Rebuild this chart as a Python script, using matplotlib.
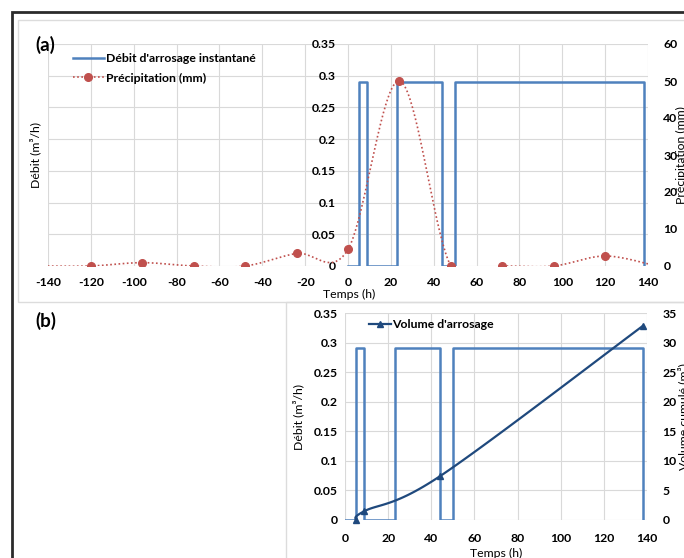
import numpy as np
import matplotlib
matplotlib.use('Agg')
import matplotlib.pyplot as plt
from matplotlib.lines import Line2D
from matplotlib.patches import Rectangle

plt.rcParams['font.family'] = ['Lato', 'DejaVu Sans']
plt.rcParams['font.weight'] = 'bold'
plt.rcParams['font.size'] = 8.8
plt.rcParams['axes.unicode_minus'] = False

# débit d'arrosage instantané (m3/h), en escalier
debit_t = [0, 5, 5, 9, 9, 23, 23, 44, 44, 50, 50, 138, 138]
debit_q = [0, 0, 0.29, 0.29, 0, 0, 0.29, 0.29, 0, 0, 0.29, 0.29, 0]

# précipitation (mm), un point toutes les 24 h
pluie_t = [-144, -120, -96, -72, -48, -24, 0, 24, 48, 72, 96, 120, 144]
pluie_mm = [0, 0, 0.9, 0, 0, 3.4, 4.5, 50, 0, 0, 0, 2.7, 0]

# volume d'arrosage cumulé (m3)
vol_t = [5, 9, 44, 138]
vol_m3 = [0, 1.5, 7.4, 32.8]

x_ticks_a = list(range(-140, 141, 20))
x_ticks_b = list(range(0, 141, 20))
q_ticks = [0, 0.05, 0.1, 0.15, 0.2, 0.25, 0.3, 0.35]
q_labels = ['0', '0.05', '0.1', '0.15', '0.2', '0.25', '0.3', '0.35']

BLEU = '#4F81BD'
MARINE = '#1F497D'
ROUGE = '#C0504D'
GRILLE = '#D9D9D9'


def lisse(x, y, n=40):
    # courbe lissée façon Excel (Bezier, tangentes des voisins / 6)
    x = np.asarray(x, float)
    y = np.asarray(y, float)
    px = np.concatenate([[x[0]], x, [x[-1]]])
    py = np.concatenate([[y[0]], y, [y[-1]]])
    t = np.linspace(0, 1, n)
    xs, ys = [], []
    for i in range(len(x) - 1):
        p0 = np.array([px[i], py[i]])
        p1 = np.array([px[i + 1], py[i + 1]])
        p2 = np.array([px[i + 2], py[i + 2]])
        p3 = np.array([px[i + 3], py[i + 3]])
        c1 = p1 + (p2 - p0) / 6
        c2 = p2 - (p3 - p1) / 6
        b = ((1 - t) ** 3)[:, None] * p1 + (3 * (1 - t) ** 2 * t)[:, None] * c1 \
            + (3 * (1 - t) * t ** 2)[:, None] * c2 + (t ** 3)[:, None] * p2
        xs.append(b[:, 0])
        ys.append(b[:, 1])
    return np.concatenate(xs), np.concatenate(ys)


def style(ax, xt):
    ax.set_xticks(xt)
    ax.set_yticks(q_ticks)
    ax.set_yticklabels(q_labels)
    ax.set_ylim(0, 0.35)
    ax.grid(True, color=GRILLE, lw=0.8)
    ax.set_axisbelow(True)
    ax.tick_params(length=0)
    for s in ax.spines.values():
        s.set_visible(False)


fig = plt.figure(figsize=(6.84, 5.58), dpi=100)
W, H = 684.0, 558.0

# cadres
fig.add_artist(Rectangle((12 / W, -0.1), 1.2, 1 - 12 / H + 0.1, transform=fig.transFigure,
                         fill=False, ec='#2b2b2b', lw=2))
fig.add_artist(Rectangle((18 / W, 1 - 302 / H), 1.2, (302 - 20) / H, transform=fig.transFigure,
                         fill=False, ec='#dcdcdc', lw=1))
fig.add_artist(Rectangle((286 / W, -0.1), 1.2, 1 - 302 / H + 0.1, transform=fig.transFigure,
                         fill=False, ec='#dcdcdc', lw=1))

# ---- (a)
ax = fig.add_axes([48 / W, 1 - 266 / H, 600 / W, 222 / H])
style(ax, x_ticks_a)
ax.set_xlim(-140, 140)
ax.spines['left'].set_position(('data', 0))
ax.tick_params(axis='y', pad=9)
ax.tick_params(axis='x', pad=8)
ax.plot(debit_t, debit_q, color=BLEU, lw=1.8)
ax.set_ylabel('Débit (m³/h)')
ax.yaxis.set_label_coords(-0.012, 0.5)
ax.set_xlabel('Temps (h)')
ax.xaxis.set_label_coords(0.502, -0.105)

ax2 = ax.twinx()
ax2.set_ylim(0, 60)
ax2.set_yticks(range(0, 61, 10))
ax2.tick_params(length=0, pad=11)
for s in ax2.spines.values():
    s.set_visible(False)
xs, ys = lisse(pluie_t, pluie_mm)
ax2.plot(xs, ys, color=ROUGE, lw=1.2, ls=(0, (1, 1.5)))
ax2.plot(pluie_t, pluie_mm, ls='none', marker='o', ms=5.5, color=ROUGE)
ax2.set_ylabel('Précipitation (mm)')
ax2.yaxis.set_label_coords(1.047, 0.5)

h1 = Line2D([], [], color=BLEU, lw=1.8)
h2 = Line2D([], [], color=ROUGE, lw=1.2, ls=(0, (1, 1.5)), marker='o', ms=5.5)
ax2.legend([h1, h2], ["Débit d'arrosage instantané", 'Précipitation (mm)'],
           loc='upper left', bbox_to_anchor=(73 / W, 1 - 53 / H), bbox_transform=fig.transFigure,
           frameon=False, handlelength=2.5, handletextpad=0.2, labelspacing=0.7, borderpad=0,
           borderaxespad=0)

# ---- (b)
bx = fig.add_axes([345 / W, 1 - 520 / H, 302 / W, 207 / H])
style(bx, x_ticks_b)
bx.set_xlim(0, 140)
bx.tick_params(axis='y', pad=5)
bx.tick_params(axis='x', pad=9)
bx.plot(debit_t, debit_q, color=BLEU, lw=1.8)
bx.set_ylabel('Débit (m³/h)')
bx.yaxis.set_label_coords(-0.135, 0.5)
bx.set_xlabel('Temps (h)')
bx.xaxis.set_label_coords(0.5, -0.135)

bx2 = bx.twinx()
bx2.set_ylim(0, 35)
bx2.set_yticks(range(0, 36, 5))
bx2.tick_params(length=0, pad=11)
for s in bx2.spines.values():
    s.set_visible(False)
vx, vy = lisse(vol_t, vol_m3)
bx2.plot(vx, vy, color=MARINE, lw=1.6)
bx2.plot(vol_t, vol_m3, ls='none', marker='^', ms=4.5, color=MARINE, clip_on=False)
bx2.set_ylabel('Volume cumulé (m³)')
bx2.yaxis.set_label_coords(1.1, 0.5)

h3 = Line2D([], [], color=MARINE, lw=1.6, marker='^', ms=4.5)
bx2.legend([h3], ["Volume d'arrosage"], loc='upper left',
           bbox_to_anchor=(369 / W, 1 - 319 / H), bbox_transform=fig.transFigure,
           frameon=False, handlelength=1.8, handletextpad=0.1, borderpad=0, borderaxespad=0)

fig.text(35 / W, 1 - 45 / H, '(a)', fontsize=13.5, fontweight='bold', va='center')
fig.text(35 / W, 1 - 321 / H, '(b)', fontsize=13.5, fontweight='bold', va='center')

fig.savefig('out.png', dpi=100)
